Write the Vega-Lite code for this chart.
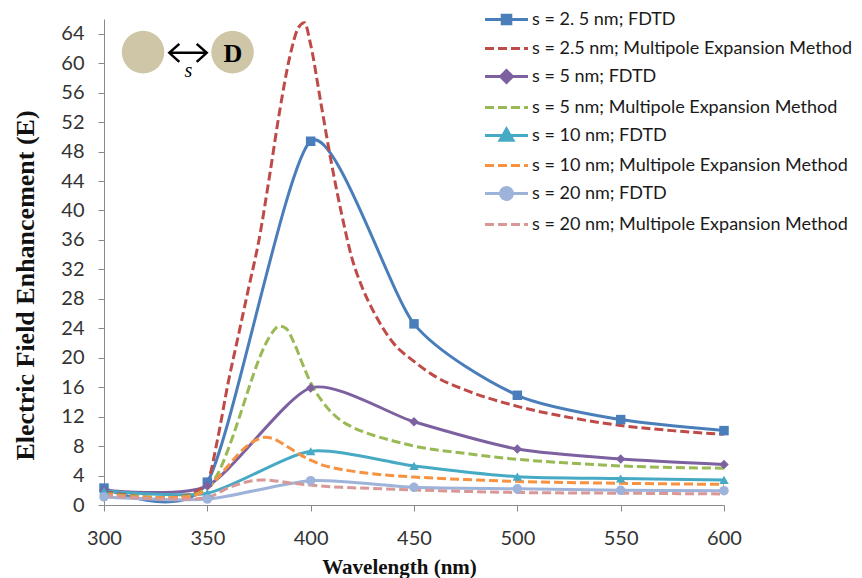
{
  "$schema": "https://vega.github.io/schema/vega-lite/v6.json",
  "width": 620,
  "height": 486,
  "autosize": {"type": "none"},
  "padding": {"left": 104, "top": 19, "right": 138, "bottom": 73},
  "background": "white",
  "config": {
    "view": {"stroke": null},
    "axis": {"domainColor": "#8a8a8a", "tickColor": "#8a8a8a", "grid": false, "labelFont": "Lato", "labelColor": "#333333", "titleFont": "Liberation Serif", "titleFontWeight": "bold", "titleColor": "#111111", "labelFlush": false}
  },
  "datasets": {
    "curves": [
      {"series": "s = 2. 5 nm; FDTD", "wl": 300, "E": 2.3},
      {"series": "s = 2. 5 nm; FDTD", "wl": 350, "E": 3.1},
      {"series": "s = 2. 5 nm; FDTD", "wl": 400, "E": 49.4},
      {"series": "s = 2. 5 nm; FDTD", "wl": 450, "E": 24.6},
      {"series": "s = 2. 5 nm; FDTD", "wl": 500, "E": 14.9},
      {"series": "s = 2. 5 nm; FDTD", "wl": 550, "E": 11.6},
      {"series": "s = 2. 5 nm; FDTD", "wl": 600, "E": 10.1},
      {"series": "s = 5 nm; FDTD", "wl": 300, "E": 2.0},
      {"series": "s = 5 nm; FDTD", "wl": 350, "E": 2.6},
      {"series": "s = 5 nm; FDTD", "wl": 400, "E": 15.9},
      {"series": "s = 5 nm; FDTD", "wl": 450, "E": 11.3},
      {"series": "s = 5 nm; FDTD", "wl": 500, "E": 7.6},
      {"series": "s = 5 nm; FDTD", "wl": 550, "E": 6.25},
      {"series": "s = 5 nm; FDTD", "wl": 600, "E": 5.5},
      {"series": "s = 10 nm; FDTD", "wl": 300, "E": 1.9},
      {"series": "s = 10 nm; FDTD", "wl": 350, "E": 1.6},
      {"series": "s = 10 nm; FDTD", "wl": 400, "E": 7.3},
      {"series": "s = 10 nm; FDTD", "wl": 450, "E": 5.3},
      {"series": "s = 10 nm; FDTD", "wl": 500, "E": 3.85},
      {"series": "s = 10 nm; FDTD", "wl": 550, "E": 3.6},
      {"series": "s = 10 nm; FDTD", "wl": 600, "E": 3.4},
      {"series": "s = 20 nm; FDTD", "wl": 300, "E": 1.1},
      {"series": "s = 20 nm; FDTD", "wl": 350, "E": 0.8},
      {"series": "s = 20 nm; FDTD", "wl": 400, "E": 3.3},
      {"series": "s = 20 nm; FDTD", "wl": 450, "E": 2.4},
      {"series": "s = 20 nm; FDTD", "wl": 500, "E": 2.2},
      {"series": "s = 20 nm; FDTD", "wl": 550, "E": 2.0},
      {"series": "s = 20 nm; FDTD", "wl": 600, "E": 1.95},

      {"series": "s = 2.5 nm; Multipole Expansion Method", "wl": 300, "E": 1.8},
      {"series": "s = 2.5 nm; Multipole Expansion Method", "wl": 310, "E": 1.4},
      {"series": "s = 2.5 nm; Multipole Expansion Method", "wl": 320, "E": 1.1},
      {"series": "s = 2.5 nm; Multipole Expansion Method", "wl": 330, "E": 1.0},
      {"series": "s = 2.5 nm; Multipole Expansion Method", "wl": 340, "E": 1.3},
      {"series": "s = 2.5 nm; Multipole Expansion Method", "wl": 350, "E": 3.2},
      {"series": "s = 2.5 nm; Multipole Expansion Method", "wl": 355, "E": 9},
      {"series": "s = 2.5 nm; Multipole Expansion Method", "wl": 360, "E": 16.5},
      {"series": "s = 2.5 nm; Multipole Expansion Method", "wl": 365, "E": 23},
      {"series": "s = 2.5 nm; Multipole Expansion Method", "wl": 370, "E": 29.5},
      {"series": "s = 2.5 nm; Multipole Expansion Method", "wl": 375, "E": 36},
      {"series": "s = 2.5 nm; Multipole Expansion Method", "wl": 380, "E": 44.5},
      {"series": "s = 2.5 nm; Multipole Expansion Method", "wl": 385, "E": 53.5},
      {"series": "s = 2.5 nm; Multipole Expansion Method", "wl": 390, "E": 61},
      {"series": "s = 2.5 nm; Multipole Expansion Method", "wl": 394, "E": 64.8},
      {"series": "s = 2.5 nm; Multipole Expansion Method", "wl": 397, "E": 65.5},
      {"series": "s = 2.5 nm; Multipole Expansion Method", "wl": 400, "E": 62.5},
      {"series": "s = 2.5 nm; Multipole Expansion Method", "wl": 405, "E": 54.5},
      {"series": "s = 2.5 nm; Multipole Expansion Method", "wl": 410, "E": 46.5},
      {"series": "s = 2.5 nm; Multipole Expansion Method", "wl": 415, "E": 39.5},
      {"series": "s = 2.5 nm; Multipole Expansion Method", "wl": 420, "E": 33.5},
      {"series": "s = 2.5 nm; Multipole Expansion Method", "wl": 425, "E": 29.5},
      {"series": "s = 2.5 nm; Multipole Expansion Method", "wl": 430, "E": 26.5},
      {"series": "s = 2.5 nm; Multipole Expansion Method", "wl": 435, "E": 24},
      {"series": "s = 2.5 nm; Multipole Expansion Method", "wl": 440, "E": 22},
      {"series": "s = 2.5 nm; Multipole Expansion Method", "wl": 450, "E": 19.5},
      {"series": "s = 2.5 nm; Multipole Expansion Method", "wl": 460, "E": 17.5},
      {"series": "s = 2.5 nm; Multipole Expansion Method", "wl": 475, "E": 15.6},
      {"series": "s = 2.5 nm; Multipole Expansion Method", "wl": 500, "E": 13.4},
      {"series": "s = 2.5 nm; Multipole Expansion Method", "wl": 525, "E": 11.9},
      {"series": "s = 2.5 nm; Multipole Expansion Method", "wl": 550, "E": 10.8},
      {"series": "s = 2.5 nm; Multipole Expansion Method", "wl": 575, "E": 10.1},
      {"series": "s = 2.5 nm; Multipole Expansion Method", "wl": 600, "E": 9.6},

      {"series": "s = 5 nm; Multipole Expansion Method", "wl": 300, "E": 1.6},
      {"series": "s = 5 nm; Multipole Expansion Method", "wl": 310, "E": 1.3},
      {"series": "s = 5 nm; Multipole Expansion Method", "wl": 320, "E": 1.1},
      {"series": "s = 5 nm; Multipole Expansion Method", "wl": 330, "E": 1.0},
      {"series": "s = 5 nm; Multipole Expansion Method", "wl": 340, "E": 1.2},
      {"series": "s = 5 nm; Multipole Expansion Method", "wl": 350, "E": 2.4},
      {"series": "s = 5 nm; Multipole Expansion Method", "wl": 355, "E": 4.2},
      {"series": "s = 5 nm; Multipole Expansion Method", "wl": 360, "E": 7.5},
      {"series": "s = 5 nm; Multipole Expansion Method", "wl": 365, "E": 11.5},
      {"series": "s = 5 nm; Multipole Expansion Method", "wl": 370, "E": 15.8},
      {"series": "s = 5 nm; Multipole Expansion Method", "wl": 375, "E": 19.8},
      {"series": "s = 5 nm; Multipole Expansion Method", "wl": 380, "E": 22.8},
      {"series": "s = 5 nm; Multipole Expansion Method", "wl": 385, "E": 24.3},
      {"series": "s = 5 nm; Multipole Expansion Method", "wl": 388, "E": 24.0},
      {"series": "s = 5 nm; Multipole Expansion Method", "wl": 392, "E": 22.0},
      {"series": "s = 5 nm; Multipole Expansion Method", "wl": 396, "E": 19.2},
      {"series": "s = 5 nm; Multipole Expansion Method", "wl": 400, "E": 16.6},
      {"series": "s = 5 nm; Multipole Expansion Method", "wl": 405, "E": 14.3},
      {"series": "s = 5 nm; Multipole Expansion Method", "wl": 410, "E": 12.6},
      {"series": "s = 5 nm; Multipole Expansion Method", "wl": 415, "E": 11.4},
      {"series": "s = 5 nm; Multipole Expansion Method", "wl": 420, "E": 10.6},
      {"series": "s = 5 nm; Multipole Expansion Method", "wl": 430, "E": 9.5},
      {"series": "s = 5 nm; Multipole Expansion Method", "wl": 440, "E": 8.7},
      {"series": "s = 5 nm; Multipole Expansion Method", "wl": 450, "E": 8.0},
      {"series": "s = 5 nm; Multipole Expansion Method", "wl": 475, "E": 7.0},
      {"series": "s = 5 nm; Multipole Expansion Method", "wl": 500, "E": 6.2},
      {"series": "s = 5 nm; Multipole Expansion Method", "wl": 525, "E": 5.7},
      {"series": "s = 5 nm; Multipole Expansion Method", "wl": 550, "E": 5.3},
      {"series": "s = 5 nm; Multipole Expansion Method", "wl": 575, "E": 5.1},
      {"series": "s = 5 nm; Multipole Expansion Method", "wl": 600, "E": 5.0},

      {"series": "s = 10 nm; Multipole Expansion Method", "wl": 300, "E": 1.5},
      {"series": "s = 10 nm; Multipole Expansion Method", "wl": 310, "E": 1.2},
      {"series": "s = 10 nm; Multipole Expansion Method", "wl": 320, "E": 1.0},
      {"series": "s = 10 nm; Multipole Expansion Method", "wl": 330, "E": 1.0},
      {"series": "s = 10 nm; Multipole Expansion Method", "wl": 340, "E": 1.1},
      {"series": "s = 10 nm; Multipole Expansion Method", "wl": 350, "E": 2.2},
      {"series": "s = 10 nm; Multipole Expansion Method", "wl": 355, "E": 3.7},
      {"series": "s = 10 nm; Multipole Expansion Method", "wl": 360, "E": 5.3},
      {"series": "s = 10 nm; Multipole Expansion Method", "wl": 365, "E": 6.9},
      {"series": "s = 10 nm; Multipole Expansion Method", "wl": 370, "E": 8.2},
      {"series": "s = 10 nm; Multipole Expansion Method", "wl": 375, "E": 9.0},
      {"series": "s = 10 nm; Multipole Expansion Method", "wl": 378, "E": 9.2},
      {"series": "s = 10 nm; Multipole Expansion Method", "wl": 382, "E": 9.0},
      {"series": "s = 10 nm; Multipole Expansion Method", "wl": 386, "E": 8.4},
      {"series": "s = 10 nm; Multipole Expansion Method", "wl": 390, "E": 7.7},
      {"series": "s = 10 nm; Multipole Expansion Method", "wl": 395, "E": 6.8},
      {"series": "s = 10 nm; Multipole Expansion Method", "wl": 400, "E": 6.1},
      {"series": "s = 10 nm; Multipole Expansion Method", "wl": 405, "E": 5.5},
      {"series": "s = 10 nm; Multipole Expansion Method", "wl": 410, "E": 5.1},
      {"series": "s = 10 nm; Multipole Expansion Method", "wl": 420, "E": 4.6},
      {"series": "s = 10 nm; Multipole Expansion Method", "wl": 435, "E": 4.1},
      {"series": "s = 10 nm; Multipole Expansion Method", "wl": 450, "E": 3.8},
      {"series": "s = 10 nm; Multipole Expansion Method", "wl": 475, "E": 3.45},
      {"series": "s = 10 nm; Multipole Expansion Method", "wl": 500, "E": 3.2},
      {"series": "s = 10 nm; Multipole Expansion Method", "wl": 550, "E": 2.95},
      {"series": "s = 10 nm; Multipole Expansion Method", "wl": 600, "E": 2.8},

      {"series": "s = 20 nm; Multipole Expansion Method", "wl": 300, "E": 1.3},
      {"series": "s = 20 nm; Multipole Expansion Method", "wl": 310, "E": 1.1},
      {"series": "s = 20 nm; Multipole Expansion Method", "wl": 320, "E": 0.9},
      {"series": "s = 20 nm; Multipole Expansion Method", "wl": 330, "E": 0.8},
      {"series": "s = 20 nm; Multipole Expansion Method", "wl": 340, "E": 0.8},
      {"series": "s = 20 nm; Multipole Expansion Method", "wl": 350, "E": 1.0},
      {"series": "s = 20 nm; Multipole Expansion Method", "wl": 355, "E": 1.6},
      {"series": "s = 20 nm; Multipole Expansion Method", "wl": 360, "E": 2.3},
      {"series": "s = 20 nm; Multipole Expansion Method", "wl": 365, "E": 2.8},
      {"series": "s = 20 nm; Multipole Expansion Method", "wl": 370, "E": 3.2},
      {"series": "s = 20 nm; Multipole Expansion Method", "wl": 376, "E": 3.4},
      {"series": "s = 20 nm; Multipole Expansion Method", "wl": 382, "E": 3.3},
      {"series": "s = 20 nm; Multipole Expansion Method", "wl": 390, "E": 3.0},
      {"series": "s = 20 nm; Multipole Expansion Method", "wl": 400, "E": 2.7},
      {"series": "s = 20 nm; Multipole Expansion Method", "wl": 415, "E": 2.4},
      {"series": "s = 20 nm; Multipole Expansion Method", "wl": 435, "E": 2.2},
      {"series": "s = 20 nm; Multipole Expansion Method", "wl": 450, "E": 2.05},
      {"series": "s = 20 nm; Multipole Expansion Method", "wl": 475, "E": 1.85},
      {"series": "s = 20 nm; Multipole Expansion Method", "wl": 500, "E": 1.7},
      {"series": "s = 20 nm; Multipole Expansion Method", "wl": 550, "E": 1.6},
      {"series": "s = 20 nm; Multipole Expansion Method", "wl": 600, "E": 1.5}
    ],
    "spheres": [
      {"wl": 318.9, "E": 61.5},
      {"wl": 362.2, "E": 61.5}
    ],
    "gap": [
      {"wl": 331.6, "wl2": 349.7, "E": 61.4}
    ],
    "heads": [
      {"wl": 331.6, "E": 61.4, "dir": "L"},
      {"wl": 349.7, "E": 61.4, "dir": "R"}
    ],
    "labels": [
      {"wl": 340.8, "E": 59.0, "txt": "s", "kind": "s"},
      {"wl": 362.4, "E": 61.4, "txt": "D", "kind": "D"}
    ]
  },
  "encoding": {
    "x": {"field": "wl", "type": "quantitative", "scale": {"domain": [300, 600], "nice": false, "zero": false},
      "axis": {"title": "Wavelength (nm)", "values": [300, 350, 400, 450, 500, 550, 600], "labelFontSize": 20, "labelPadding": 17, "tickSize": 6, "titleFontSize": 21, "titlePadding": 8, "titleX": 295}},
    "y": {"field": "E", "type": "quantitative", "scale": {"domain": [0, 66], "nice": false},
      "axis": {"title": "Electric Field Enhancement (E)", "values": [0, 4, 8, 12, 16, 20, 24, 28, 32, 36, 40, 44, 48, 52, 56, 60, 64], "labelFontSize": 20, "labelPadding": 14, "tickSize": 6, "titleFontSize": 26, "titlePadding": 22, "titleY": 266}}
  },
  "layer": [
    {
      "data": {"name": "spheres"},
      "mark": {"type": "point", "shape": "circle", "filled": true, "size": 1810, "color": "#CEC6A6", "opacity": 1}
    },
    {
      "data": {"name": "gap"},
      "mark": {"type": "rule", "color": "#000000", "strokeWidth": 2.5},
      "encoding": {"x2": {"field": "wl2"}}
    },
    {
      "data": {"name": "heads"},
      "transform": [{"filter": "datum.dir == 'L'"}],
      "mark": {"type": "point", "shape": "M1,-0.9L0,0L1,0.9", "filled": false, "stroke": "#000000", "strokeWidth": 2.5, "size": 400, "opacity": 1}
    },
    {
      "data": {"name": "heads"},
      "transform": [{"filter": "datum.dir == 'R'"}],
      "mark": {"type": "point", "shape": "M-1,-0.9L0,0L-1,0.9", "filled": false, "stroke": "#000000", "strokeWidth": 2.5, "size": 400, "opacity": 1}
    },
    {
      "data": {"name": "labels"},
      "transform": [{"filter": "datum.kind == 's'"}],
      "mark": {"type": "text", "font": "Liberation Serif", "fontStyle": "italic", "fontSize": 20, "color": "#000000", "baseline": "middle", "align": "center"},
      "encoding": {"text": {"field": "txt"}}
    },
    {
      "data": {"name": "labels"},
      "transform": [{"filter": "datum.kind == 'D'"}],
      "mark": {"type": "text", "font": "Liberation Serif", "fontWeight": "bold", "fontSize": 26, "color": "#000000", "baseline": "middle", "align": "center", "dy": 1},
      "encoding": {"text": {"field": "txt"}}
    },
    {
      "data": {"name": "curves"},
      "transform": [{"filter": "indexof(datum.series, 'FDTD') >= 0"}],
      "mark": {"type": "line", "interpolate": "cardinal", "tension": 0.3, "strokeWidth": 3, "clip": true},
      "encoding": {
        "color": {"field": "series", "type": "nominal",
          "scale": {"domain": ["s = 2. 5 nm; FDTD", "s = 2.5 nm; Multipole Expansion Method", "s = 5 nm; FDTD", "s = 5 nm; Multipole Expansion Method", "s = 10 nm; FDTD", "s = 10 nm; Multipole Expansion Method", "s = 20 nm; FDTD", "s = 20 nm; Multipole Expansion Method"],
            "range": ["#4A7EBB", "#BE4B48", "#7D60A0", "#98B954", "#46AAC5", "#F69240", "#9EB3DA", "#D99795"]},
          "legend": {"orient": "none", "legendX": 390, "legendY": -12, "title": null, "symbolSize": 462, "symbolStrokeWidth": 3, "symbolOpacity": 1, "labelFont": "Lato", "labelFontSize": 18, "labelColor": "#1a1a1a", "labelLimit": 500, "labelOffset": 13, "rowPadding": 6, "padding": 0,
            "encode": {"symbols": {"update": {
              "shape": {"signal": "datum.value == 's = 2. 5 nm; FDTD' ? 'M-2,0H2M-0.4,-0.4H0.4V0.4H-0.4Z' : datum.value == 's = 5 nm; FDTD' ? 'M-2,0H2M0,-0.55L0.55,0L0,0.55L-0.55,0Z' : datum.value == 's = 10 nm; FDTD' ? 'M-2,0H2M0,-0.6L0.6,0.45L-0.6,0.45Z' : datum.value == 's = 20 nm; FDTD' ? 'M-2,0H2M0.55,0A0.55,0.55,0,1,1,-0.55,0A0.55,0.55,0,1,1,0.55,0Z' : 'M-2,0H2'"},
              "strokeDash": {"signal": "indexof(datum.value, 'Multipole') >= 0 ? [9, 4] : [1, 0]"},
              "fill": {"scale": "color", "field": "value"},
              "stroke": {"scale": "color", "field": "value"},
              "strokeWidth": {"value": 3},
              "opacity": {"value": 1}
            }}}}
        },
        "detail": {"field": "series"}
      }
    },
    {
      "data": {"name": "curves"},
      "transform": [{"filter": "indexof(datum.series, 'Multipole') >= 0"}],
      "mark": {"type": "line", "interpolate": "monotone", "strokeWidth": 3, "strokeDash": [9, 4], "clip": true},
      "encoding": {
        "color": {"field": "series", "type": "nominal",
          "scale": {"domain": ["s = 2. 5 nm; FDTD", "s = 2.5 nm; Multipole Expansion Method", "s = 5 nm; FDTD", "s = 5 nm; Multipole Expansion Method", "s = 10 nm; FDTD", "s = 10 nm; Multipole Expansion Method", "s = 20 nm; FDTD", "s = 20 nm; Multipole Expansion Method"],
            "range": ["#4A7EBB", "#BE4B48", "#7D60A0", "#98B954", "#46AAC5", "#F69240", "#9EB3DA", "#D99795"]},
          "legend": {"orient": "none", "legendX": 390, "legendY": -12, "title": null, "symbolSize": 462, "symbolStrokeWidth": 3, "symbolOpacity": 1, "labelFont": "Lato", "labelFontSize": 18, "labelColor": "#1a1a1a", "labelLimit": 500, "labelOffset": 13, "rowPadding": 6, "padding": 0,
            "encode": {"symbols": {"update": {
              "shape": {"signal": "datum.value == 's = 2. 5 nm; FDTD' ? 'M-2,0H2M-0.4,-0.4H0.4V0.4H-0.4Z' : datum.value == 's = 5 nm; FDTD' ? 'M-2,0H2M0,-0.55L0.55,0L0,0.55L-0.55,0Z' : datum.value == 's = 10 nm; FDTD' ? 'M-2,0H2M0,-0.6L0.6,0.45L-0.6,0.45Z' : datum.value == 's = 20 nm; FDTD' ? 'M-2,0H2M0.55,0A0.55,0.55,0,1,1,-0.55,0A0.55,0.55,0,1,1,0.55,0Z' : 'M-2,0H2'"},
              "strokeDash": {"signal": "indexof(datum.value, 'Multipole') >= 0 ? [9, 4] : [1, 0]"},
              "fill": {"scale": "color", "field": "value"},
              "stroke": {"scale": "color", "field": "value"},
              "strokeWidth": {"value": 3},
              "opacity": {"value": 1}
            }}}}
        },
        "detail": {"field": "series"}
      }
    },
    {
      "data": {"name": "curves"},
      "transform": [{"filter": "indexof(datum.series, 'FDTD') >= 0"}],
      "mark": {"type": "point", "filled": true, "size": 90, "opacity": 1},
      "encoding": {
        "fill": {"field": "series", "type": "nominal", "scale": {"domain": ["s = 2. 5 nm; FDTD", "s = 5 nm; FDTD", "s = 10 nm; FDTD", "s = 20 nm; FDTD"], "range": ["#4A7EBB", "#7D60A0", "#46AAC5", "#9EB3DA"]}, "legend": null},
        "shape": {"field": "series", "type": "nominal", "scale": {"domain": ["s = 2. 5 nm; FDTD", "s = 5 nm; FDTD", "s = 10 nm; FDTD", "s = 20 nm; FDTD"], "range": ["square", "diamond", "triangle-up", "circle"]}, "legend": null}
      }
    }
  ]
}
